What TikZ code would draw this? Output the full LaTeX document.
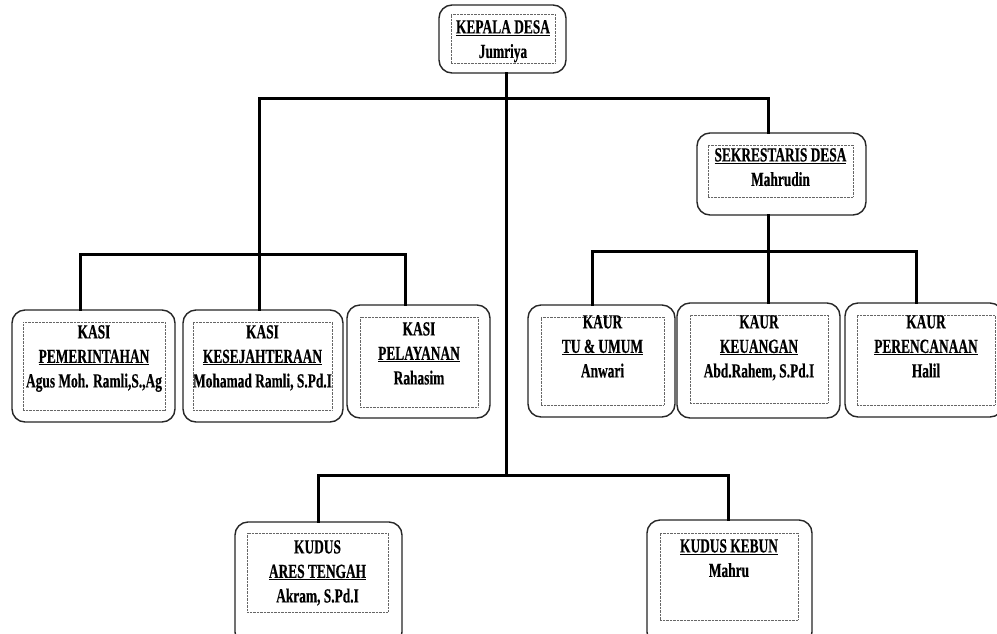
\documentclass[tikz,border=0pt]{standalone}
\usepackage{fontspec}
\setmainfont{Liberation Serif}[FakeStretch=0.67, BoldFeatures={FakeBold=0.4}]
\tikzset{
  outerbox/.style={draw=black!85, line width=1.4pt, rounded corners=13pt, inner sep=0pt, fill=white},
  innerbox/.style={draw=black!60, line width=0.9pt, dash pattern=on 0.7pt off 0.7pt, inner sep=0pt},
  conn/.style={line width=3pt, line cap=rect},
  lbl/.style={anchor=north, inner sep=0pt, align=center, font=\fontsize{20}{24.5}\selectfont\bfseries},
}
\newcommand\orgbox[9]{%
  \node[outerbox, minimum width={(#4-#2)*1pt}, minimum height={(#5-#3)*1pt}] (#1) at ({(#2+#4)/2},{(#3+#5)/2}) {};
  \node[innerbox, minimum width={(#8-#6)*1pt}, minimum height={(#9-#7)*1pt}] (#1-in) at ({(#6+#8)/2},{(#7+#9)/2}) {};
}
\begin{document}
\begin{tikzpicture}[x=1pt,y=-1pt]
\clip (0,0) rectangle (997,633);
\fill[white] (0,0) rectangle (997,633);

\coordinate (jTop) at (506,98);
\coordinate (jBot) at (506,475);
\coordinate (tL) at (259,98);
\coordinate (tR) at (768,98);
\coordinate (lL) at (80,254);
\coordinate (lM) at (259,254);
\coordinate (lR) at (405,254);
\coordinate (rL) at (592,251);
\coordinate (rM) at (768,251);
\coordinate (rR) at (916,251);
\coordinate (bL) at (318,475);
\coordinate (bR) at (728,475);

\orgbox{kepala}{439}{5}{566}{73}{451}{14}{555}{63}
\orgbox{sek}{697}{133}{866}{215}{708}{145}{853}{197}
\orgbox{pem}{12}{310}{175}{422}{23}{322}{165}{410}
\orgbox{kes}{183}{310}{343}{422}{193}{322}{332}{410}
\orgbox{pel}{347}{305}{490}{418}{360}{317}{478}{407}
\orgbox{tu}{528}{305}{675}{417}{541}{317}{664}{405}
\orgbox{keu}{677}{303}{840}{418}{690}{315}{828}{403}
\orgbox{per}{845}{303}{1003}{417}{857}{315}{995}{405}
\orgbox{ares}{235}{522}{402}{645}{247}{533}{388}{612}
\orgbox{kebun}{647}{520}{812}{645}{660}{533}{798}{620}

\draw[conn] (jTop |- kepala.south) -- (jBot);
\draw[conn] (tL) -- (tR) -- (tR |- sek.north);
\draw[conn] (tL) -- (lM);
\draw[conn] (lL) -- (lR);
\draw[conn] (lL) -- (lL |- pem.north);
\draw[conn] (lM) -- (lM |- kes.north);
\draw[conn] (lR) -- (lR |- pel.north);
\draw[conn] (tR |- sek.south) -- (rM);
\draw[conn] (rL) -- (rR);
\draw[conn] (rL) -- (rL |- tu.north);
\draw[conn] (rM) -- (rM |- keu.north);
\draw[conn] (rR) -- (rR |- per.north);
\draw[conn] (bL) -- (bR);
\draw[conn] (bL) -- (bL |- ares.north);
\draw[conn] (bR) -- (bR |- kebun.north);

\node[lbl] (kepala-t) at (503,20) {\underline{KEPALA DESA}\\Jumriya};
\node[lbl] (sek-t) at (780.5,148) {\underline{SEKRESTARIS DESA}\\Mahrudin};
\node[lbl] (pem-t) at (94,325) {KASI\\\underline{PEMERINTAHAN}\\Agus Moh. Ramli,S.,Ag};
\node[lbl] (kes-t) at (262.5,325) {KASI\\\underline{KESEJAHTERAAN}\\Mohamad Ramli, S.Pd.I};
\node[lbl] (pel-t) at (419,322) {KASI\\\underline{PELAYANAN}\\Rahasim};
\node[lbl] (tu-t) at (602.5,315) {KAUR\\\underline{TU \& UMUM}\\Anwari};
\node[lbl] (keu-t) at (759,315) {KAUR\\\underline{KEUANGAN}\\Abd.Rahem, S.Pd.I};
\node[lbl] (per-t) at (926,315) {KAUR\\\underline{PERENCANAAN}\\Halil};
\node[lbl] (ares-t) at (317.5,540) {KUDUS\\\underline{ARES TENGAH}\\Akram, S.Pd.I};
\node[lbl] (kebun-t) at (729,539) {\underline{KUDUS KEBUN}\\Mahru};
\end{tikzpicture}
\end{document}
